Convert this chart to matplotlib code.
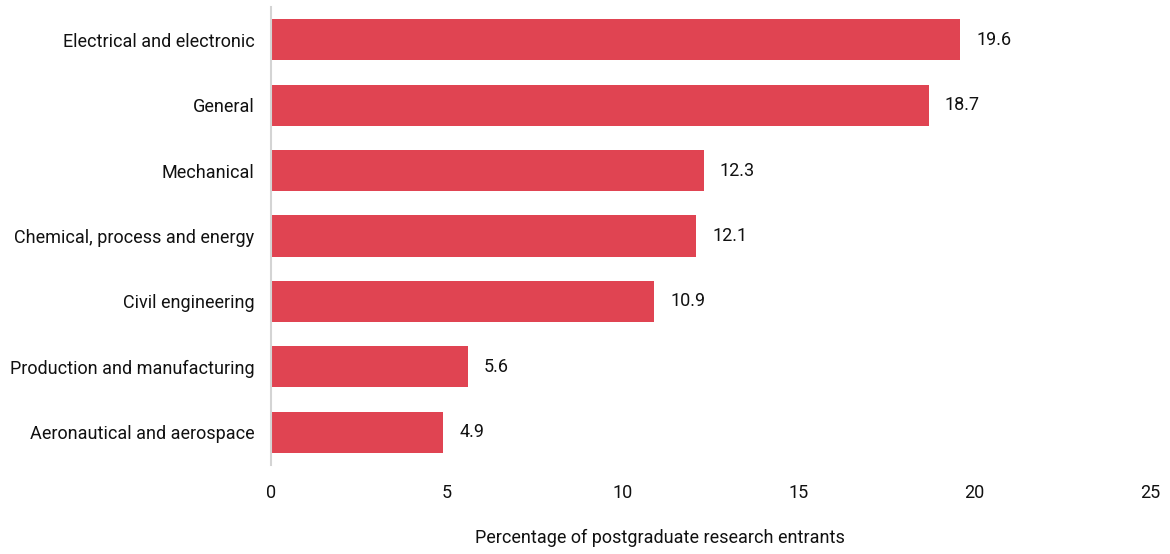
import matplotlib.pyplot as plt

# data
categories = [
    "Electrical and electronic",
    "General",
    "Mechanical",
    "Chemical, process and energy",
    "Civil engineering",
    "Production and manufacturing",
    "Aeronautical and aerospace",
]
values = [19.6, 18.7, 12.3, 12.1, 10.9, 5.6, 4.9]
x_ticks = [0, 5, 10, 15, 20, 25]

plt.rcParams['font.family'] = ['Roboto', 'DejaVu Sans']
FS = 13

fig = plt.figure(figsize=(11.7, 5.54), dpi=100)
ax = fig.add_axes([0.2316, 0.161, 0.7514, 0.826])

y = list(range(len(categories)))
ax.barh(y, values, height=0.63, color='#E04452')

for yi, v in zip(y, values):
    ax.text(v + 0.45, yi, f"{v}", va='center', ha='left', fontsize=FS, color='#111111')

ax.set_ylim(len(categories) - 0.5, -0.5)
ax.set_xlim(0, 25)
ax.set_yticks(y)
ax.set_yticklabels(categories, fontsize=FS, color='#111111')
ax.set_xticks(x_ticks)
ax.set_xticklabels([str(t) for t in x_ticks], fontsize=FS, color='#111111')
ax.tick_params(axis='both', length=0)
ax.tick_params(axis='x', pad=14)
ax.tick_params(axis='y', pad=12)

for s in ['top', 'right', 'bottom']:
    ax.spines[s].set_visible(False)
ax.spines['left'].set_color('#d4d4d4')
ax.spines['left'].set_linewidth(1.5)

ax.set_xlabel("Percentage of postgraduate research entrants", fontsize=FS,
              color='#111111')
ax.xaxis.set_label_coords(0.4425, -0.14)

fig.savefig('out.png', dpi=100)
